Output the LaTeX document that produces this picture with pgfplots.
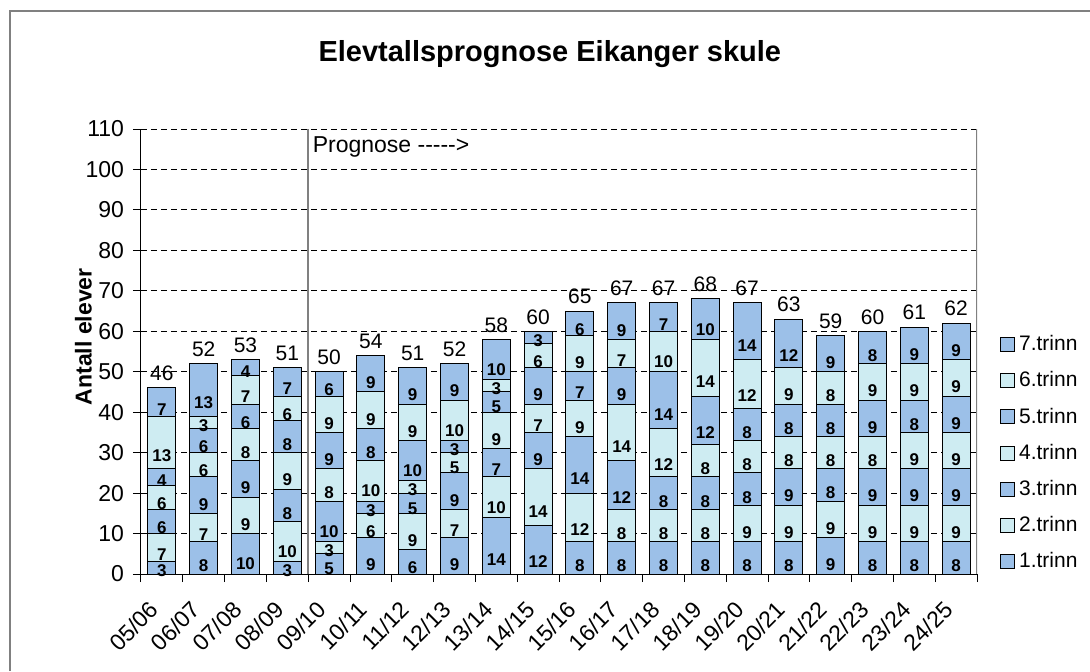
\documentclass[border=0pt]{standalone}
\usepackage{fontspec}
\setmainfont{Liberation Sans}
\setsansfont{Liberation Sans}
\usepackage{pgfplots}
\usepackage{pgfplotstable}
\pgfplotsset{compat=1.18}

\definecolor{barblue}{RGB}{156,192,232}
\definecolor{barcyan}{RGB}{206,236,242}
\definecolor{framegray}{RGB}{128,128,128}

% elevtal per trinn, 05/06 til 24/25
\pgfplotstableread{
idx t1 t2 t3 t4 t5 t6 t7 sum
0  3  7  6  6  4 13  7 46
1  8  7  9  6  6  3 13 52
2 10  9  9  8  6  7  4 53
3  3 10  8  9  8  6  7 51
4  5  3 10  8  9  9  6 50
5  9  6  3 10  8  9  9 54
6  6  9  5  3 10  9  9 51
7  9  7  9  5  3 10  9 52
8 14 10  7  9  5  3 10 58
9 12 14  9  7  9  6  3 60
10 8 12 14  9  7  9  6 65
11 8  8 12 14  9  7  9 67
12 8  8  8 12 14 10  7 67
13 8  8  8  8 12 14 10 68
14 8  9  8  8  8 12 14 67
15 8  9  9  8  8  9 12 63
16 9  9  8  8  8  8  9 59
17 8  9  9  8  9  9  8 60
18 8  9  9  9  8  9  9 61
19 8  9  9  9  9  9  9 62
}\elevdata

\pgfplotsset{
  seg/.style={
    fill=#1, draw=black, line width=0.5pt,
    visualization depends on={rawy \as \rawy},
    visualization depends on={0.25*rawy \as \qy},
    nodes near coords={\pgfmathprintnumber{\rawy}},
    every node near coord/.append style={
      black, font=\fontsize{8.5}{9}\selectfont\bfseries,
      anchor=center, inner sep=0pt,
      shift={(axis direction cs:0,-\qy)}},
    legend image code/.code={\draw[fill=#1, draw=black, line width=0.5pt] (0pt,-3.5pt) rectangle (7pt,3.5pt);},
  },
  common/.style={
    at={(0pt,0pt)}, anchor=south west,
    scale only axis, width=418pt, height=222.5pt,
    xmin=-0.5, xmax=19.5, ymin=0, ymax=110,
    /pgf/number format/assume math mode=true,
  },
}

\begin{document}
\begin{tikzpicture}
\useasboundingbox (-70.5pt,-48.5pt) rectangle (474.5pt,287pt);
\draw[framegray, line width=1pt] (-65.5pt,-48.5pt) -- (-65.5pt,281.5pt) -- (474.5pt,281.5pt);

\begin{axis}[
    common,
    ybar stacked, bar width=14pt,
    xtick={-0.5,0.5,...,19.5},
    x tick label as interval,
    xticklabels={05/06,06/07,07/08,08/09,09/10,10/11,11/12,12/13,13/14,14/15,
                 15/16,16/17,17/18,18/19,19/20,20/21,21/22,22/23,23/24,24/25},
    ytick={0,10,...,110},
    axis x line*=bottom, axis y line*=left,
    axis line style={black, line width=0.5pt},
    tick align=outside, major tick length=4pt,
    tick style={black, line width=0.5pt},
    ymajorgrids,
    grid style={black, dash pattern=on 3pt off 2pt, line width=0.5pt},
    tick label style={font=\fontsize{11.5}{13}\selectfont},
    xticklabel style={rotate=45, anchor=east, xshift=-2pt},
    xticklabel shift=8pt,
    yticklabel style={xshift=-1pt},
    title={Elevtallsprognose Eikanger skule},
    title style={at={(0.489,1)}, anchor=center, yshift=31.5pt,
                 font=\fontsize{14.5}{16}\selectfont\bfseries},
    ylabel={Antall elever},
    ylabel style={at={(axis description cs:-0.069,0.533)}, anchor=center,
                  font=\fontsize{11.5}{13}\selectfont\bfseries},
    reverse legend,
    legend cell align=left,
    legend style={draw=none, fill=none, at={(1.02,0.555)}, anchor=north west,
                  font=\fontsize{10.5}{12}\selectfont, row sep=5pt},
]
\addplot[seg=barblue] table[x=idx, y=t1] {\elevdata};
\addlegendentry{1.trinn}
\addplot[seg=barcyan] table[x=idx, y=t2] {\elevdata};
\addlegendentry{2.trinn}
\addplot[seg=barblue] table[x=idx, y=t3] {\elevdata};
\addlegendentry{3.trinn}
\addplot[seg=barcyan] table[x=idx, y=t4] {\elevdata};
\addlegendentry{4.trinn}
\addplot[seg=barblue] table[x=idx, y=t5] {\elevdata};
\addlegendentry{5.trinn}
\addplot[seg=barcyan] table[x=idx, y=t6] {\elevdata};
\addlegendentry{6.trinn}
\addplot[seg=barblue] table[x=idx, y=t7] {\elevdata};
\addlegendentry{7.trinn}

\draw[framegray, line width=0.8pt] (rel axis cs:1,0) -- (rel axis cs:1,1);
\draw[framegray, line width=0.8pt] (axis cs:3.5,0) -- (axis cs:3.5,110);
\node[anchor=west, inner sep=0pt, font=\fontsize{11.5}{13}\selectfont]
    at (axis cs:3.6,105.5) {Prognose -{}-{}-{}-{}->};
\end{axis}

% summer over stolpane
\begin{axis}[common, hide axis]
\addplot[draw=none, mark=none, nodes near coords, point meta=explicit,
    every node near coord/.append style={anchor=south, black,
        font=\fontsize{10.5}{12}\selectfont}]
    table[x=idx, y=sum, meta=sum] {\elevdata};
\end{axis}
\end{tikzpicture}
\end{document}
